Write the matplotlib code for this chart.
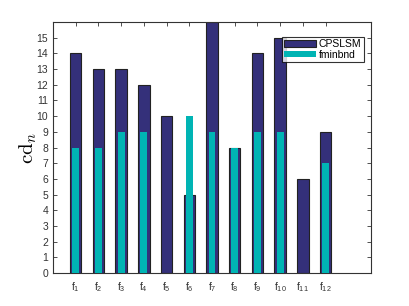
import numpy as np
import matplotlib
matplotlib.use('Agg')
import matplotlib.pyplot as plt

# data
labels = ['$\\mathregular{f_{%d}}$' % i for i in range(1, 13)]
cpslsm = [14, 13, 13, 12, 10, 5, 16, 8, 14, 15, 6, 9]
fminbnd = [8, 8, 9, 9, 0, 10, 9, 8, 9, 9, 0, 7]

plt.rcParams['font.family'] = ['Liberation Sans', 'DejaVu Sans']
plt.rcParams['mathtext.fontset'] = 'cm'

color_dark = '#34307a'
color_cyan = '#00b4b4'

fig = plt.figure(figsize=(4.09, 3.06), dpi=100)
ax = fig.add_axes([53 / 409, 1 - 273 / 306, 318 / 409, 251 / 306])

x = np.arange(1, len(cpslsm) + 1)
ax.bar(x, cpslsm, width=0.5, color=color_dark, edgecolor='#222222', linewidth=0.8, label='CPSLSM', zorder=2)
ax.bar(x, fminbnd, width=0.3, color=color_cyan, linewidth=0, label='fminbnd', zorder=3)

ax.set_xlim(0, 14)
ax.set_ylim(0, 16)
ax.set_xticks(x)
ax.set_xticklabels(labels, fontsize=7.5, color='#333333')
ax.set_yticks(np.arange(0, 16))
ax.tick_params(axis='y', labelsize=7.5, labelcolor='#333333')
ax.tick_params(direction='in', length=3, width=0.6, top=True, right=True, color='#333333')
ax.tick_params(axis='x', pad=5)

for s in ax.spines.values():
    s.set_linewidth(0.8)
    s.set_color('#333333')

ax.set_ylabel('$\\mathrm{cd}_n$', fontsize=15)
ax.yaxis.set_label_coords(-0.045, 0.5)

leg = ax.legend(loc='upper right', bbox_to_anchor=(0.978, 0.942), fontsize=7.5, frameon=True, fancybox=False,
                edgecolor='black', handlelength=3.0, handleheight=0.6, handletextpad=0.3,
                borderpad=0.25, labelspacing=0.05, borderaxespad=0)
leg.get_frame().set_linewidth(0.8)

fig.savefig('out.png', dpi=100)
